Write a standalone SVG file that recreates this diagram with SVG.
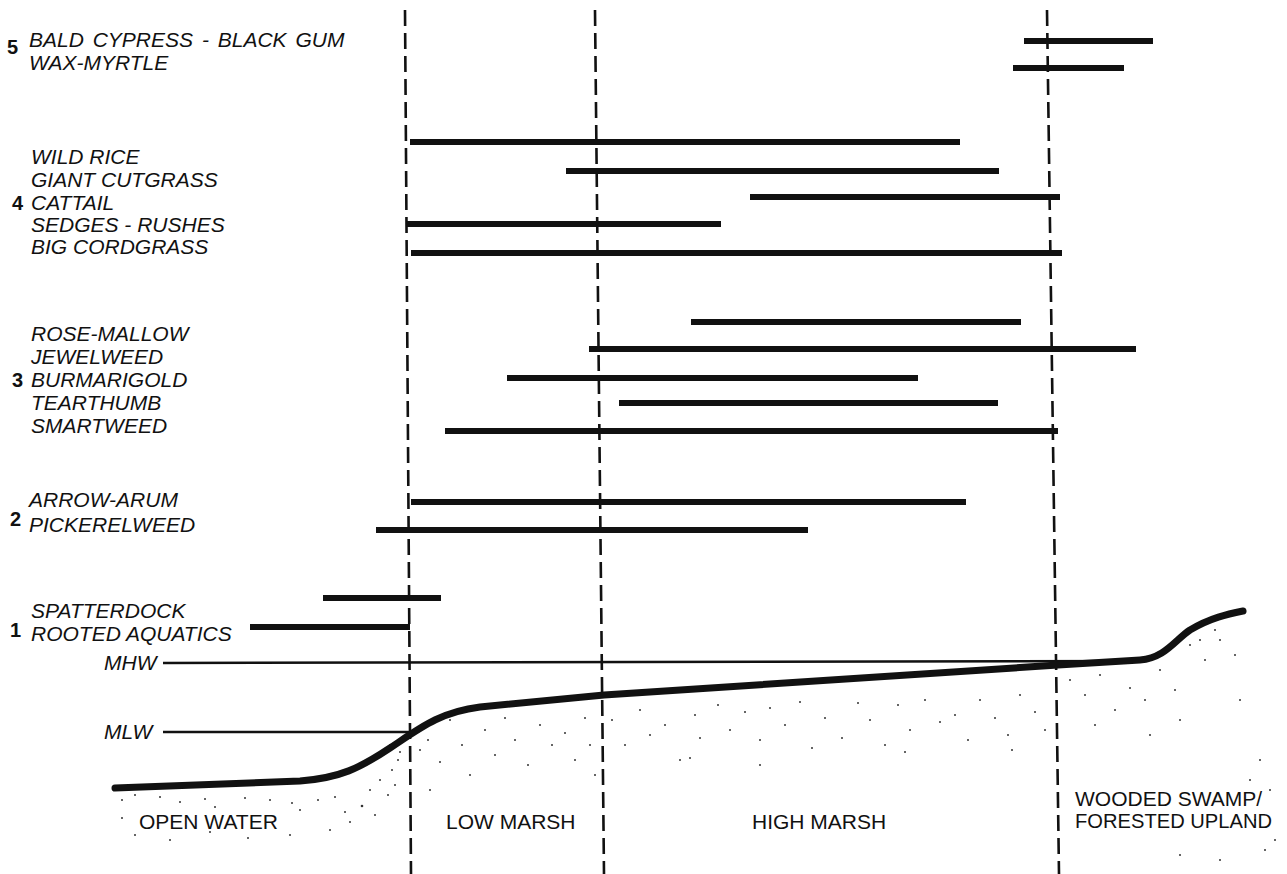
<svg xmlns="http://www.w3.org/2000/svg" width="1287" height="874" viewBox="0 0 1287 874">
<style>
.lbl{font-family:"Liberation Sans",Arial,sans-serif;font-style:italic;font-size:21px;fill:#111}
.wide{word-spacing:3px}
.num{font-family:"Liberation Sans",Arial,sans-serif;font-weight:bold;font-size:20px;fill:#111}
.zone{font-family:"Liberation Sans",Arial,sans-serif;font-size:21px;fill:#111}
.bar{stroke:#111;stroke-width:6;fill:none}
.dash{stroke:#111;stroke-width:2.6;stroke-dasharray:16 7;fill:none}
.tide{stroke:#111;stroke-width:2.5;fill:none}
.ground{stroke:#111;stroke-width:7;fill:none;stroke-linecap:round}
.dot{fill:#333}
</style>
<rect width="1287" height="874" fill="#fff"/>
<g id="stipple">
<circle class="dot" cx="122" cy="800" r="1"/><circle class="dot" cx="135" cy="795" r="1"/><circle class="dot" cx="160" cy="797" r="1"/><circle class="dot" cx="180" cy="802" r="1"/><circle class="dot" cx="205" cy="799" r="1"/><circle class="dot" cx="215" cy="807" r="1"/><circle class="dot" cx="245" cy="798" r="1"/><circle class="dot" cx="270" cy="800" r="1"/><circle class="dot" cx="292" cy="803" r="1"/><circle class="dot" cx="300" cy="810" r="1"/><circle class="dot" cx="318" cy="800" r="1"/><circle class="dot" cx="335" cy="797" r="1"/><circle class="dot" cx="345" cy="812" r="1"/><circle class="dot" cx="350" cy="822" r="1"/><circle class="dot" cx="362" cy="806" r="1.3"/><circle class="dot" cx="370" cy="790" r="1"/><circle class="dot" cx="380" cy="780" r="1"/><circle class="dot" cx="392" cy="770" r="1"/><circle class="dot" cx="395" cy="785" r="1"/><circle class="dot" cx="398" cy="760" r="1"/><circle class="dot" cx="388" cy="795" r="1"/><circle class="dot" cx="375" cy="815" r="1"/><circle class="dot" cx="330" cy="830" r="1"/><circle class="dot" cx="290" cy="835" r="1"/><circle class="dot" cx="248" cy="838" r="1"/><circle class="dot" cx="210" cy="832" r="1"/><circle class="dot" cx="170" cy="840" r="1"/><circle class="dot" cx="135" cy="835" r="1"/><circle class="dot" cx="122" cy="818" r="1"/><circle class="dot" cx="390" cy="745" r="1"/><circle class="dot" cx="400" cy="752" r="1"/>
<circle class="dot" cx="420" cy="750" r="1"/><circle class="dot" cx="428" cy="740" r="1"/><circle class="dot" cx="440" cy="762" r="1"/><circle class="dot" cx="450" cy="720" r="1"/><circle class="dot" cx="462" cy="745" r="1"/><circle class="dot" cx="470" cy="775" r="1"/><circle class="dot" cx="485" cy="730" r="1"/><circle class="dot" cx="495" cy="755" r="1"/><circle class="dot" cx="505" cy="718" r="1"/><circle class="dot" cx="515" cy="740" r="1"/><circle class="dot" cx="528" cy="765" r="1"/><circle class="dot" cx="540" cy="725" r="1"/><circle class="dot" cx="552" cy="745" r="1"/><circle class="dot" cx="565" cy="733" r="1"/><circle class="dot" cx="575" cy="760" r="1"/><circle class="dot" cx="585" cy="718" r="1"/><circle class="dot" cx="590" cy="745" r="1"/><circle class="dot" cx="595" cy="775" r="1"/><circle class="dot" cx="430" cy="790" r="1"/>
<circle class="dot" cx="612" cy="720" r="1"/><circle class="dot" cx="625" cy="745" r="1"/><circle class="dot" cx="640" cy="710" r="1"/><circle class="dot" cx="650" cy="735" r="1"/><circle class="dot" cx="665" cy="725" r="1"/><circle class="dot" cx="680" cy="760" r="1"/><circle class="dot" cx="695" cy="715" r="1"/><circle class="dot" cx="700" cy="738" r="1"/><circle class="dot" cx="718" cy="705" r="1"/><circle class="dot" cx="730" cy="730" r="1"/><circle class="dot" cx="745" cy="712" r="1"/><circle class="dot" cx="760" cy="740" r="1"/><circle class="dot" cx="770" cy="708" r="1"/><circle class="dot" cx="785" cy="725" r="1"/><circle class="dot" cx="800" cy="702" r="1"/><circle class="dot" cx="812" cy="748" r="1"/><circle class="dot" cx="825" cy="718" r="1"/><circle class="dot" cx="842" cy="738" r="1"/><circle class="dot" cx="858" cy="703" r="1"/><circle class="dot" cx="870" cy="720" r="1"/><circle class="dot" cx="885" cy="745" r="1"/><circle class="dot" cx="898" cy="705" r="1"/><circle class="dot" cx="910" cy="730" r="1"/><circle class="dot" cx="925" cy="700" r="1"/><circle class="dot" cx="940" cy="722" r="1"/><circle class="dot" cx="955" cy="715" r="1"/><circle class="dot" cx="968" cy="740" r="1"/><circle class="dot" cx="980" cy="700" r="1"/><circle class="dot" cx="995" cy="718" r="1"/><circle class="dot" cx="1008" cy="735" r="1"/><circle class="dot" cx="1020" cy="695" r="1"/><circle class="dot" cx="1035" cy="712" r="1"/><circle class="dot" cx="1045" cy="730" r="1"/><circle class="dot" cx="760" cy="765" r="1"/><circle class="dot" cx="690" cy="758" r="1"/><circle class="dot" cx="1012" cy="750" r="1"/><circle class="dot" cx="905" cy="752" r="1"/>
<circle class="dot" cx="1070" cy="680" r="1"/><circle class="dot" cx="1085" cy="695" r="1"/><circle class="dot" cx="1100" cy="675" r="1"/><circle class="dot" cx="1115" cy="710" r="1"/><circle class="dot" cx="1130" cy="688" r="1"/><circle class="dot" cx="1145" cy="700" r="1"/><circle class="dot" cx="1160" cy="670" r="1"/><circle class="dot" cx="1175" cy="690" r="1"/><circle class="dot" cx="1190" cy="645" r="1"/><circle class="dot" cx="1205" cy="660" r="1"/><circle class="dot" cx="1220" cy="640" r="1"/><circle class="dot" cx="1235" cy="655" r="1"/><circle class="dot" cx="1180" cy="720" r="1"/><circle class="dot" cx="1150" cy="735" r="1"/><circle class="dot" cx="1095" cy="725" r="1"/><circle class="dot" cx="1240" cy="700" r="1"/><circle class="dot" cx="1260" cy="760" r="1"/><circle class="dot" cx="1270" cy="790" r="1"/><circle class="dot" cx="1255" cy="820" r="1"/><circle class="dot" cx="1275" cy="840" r="1"/><circle class="dot" cx="1265" cy="850" r="1"/><circle class="dot" cx="1220" cy="860" r="1"/><circle class="dot" cx="1180" cy="855" r="1"/><circle class="dot" cx="1250" cy="780" r="1"/><circle class="dot" cx="1200" cy="640" r="1"/><circle class="dot" cx="1215" cy="630" r="1"/>
</g>
<g id="zone-boundaries">
<line class="dash" x1="405" y1="10" x2="411" y2="874"/>
<line class="dash" x1="595" y1="10" x2="604" y2="874"/>
<line class="dash" x1="1047" y1="10" x2="1059" y2="874"/>
</g>
<g id="tide-levels">
<line class="tide" x1="163" y1="663" x2="1142" y2="661"/>
<line class="tide" x1="163" y1="732" x2="414" y2="732"/>
<text class="lbl" x="104" y="670">MHW</text>
<text class="lbl" x="104" y="739">MLW</text>
</g>
<g id="ground">
<path class="ground" d="M115,788 L300,781 C340,778 360,768 390,748 C420,728 440,712 480,707 L604,695 L1058,665 L1140,660 C1165,658 1175,640 1190,630 C1210,618 1228,614 1243,611"/>
</g>
<g id="group5">
<text class="num" x="7" y="54">5</text>
<text class="lbl wide" x="29" y="47">BALD CYPRESS - BLACK GUM</text>
<text class="lbl" x="29" y="70">WAX-MYRTLE</text>
<line class="bar" x1="1024" y1="41" x2="1153" y2="41"/>
<line class="bar" x1="1013" y1="68" x2="1124" y2="68"/>
</g>
<g id="group4">
<text class="num" x="12" y="210">4</text>
<text class="lbl" x="31" y="164">WILD RICE</text>
<text class="lbl" x="31" y="187">GIANT CUTGRASS</text>
<text class="lbl" x="31" y="210">CATTAIL</text>
<text class="lbl" x="31" y="232">SEDGES - RUSHES</text>
<text class="lbl" x="31" y="254">BIG CORDGRASS</text>
<line class="bar" x1="410" y1="142" x2="960" y2="142"/>
<line class="bar" x1="566" y1="171" x2="999" y2="171"/>
<line class="bar" x1="750" y1="197" x2="1060" y2="197"/>
<line class="bar" x1="407" y1="224" x2="721" y2="224"/>
<line class="bar" x1="411" y1="253" x2="1062" y2="253"/>
</g>
<g id="group3">
<text class="num" x="12" y="387">3</text>
<text class="lbl" x="31" y="341">ROSE-MALLOW</text>
<text class="lbl" x="31" y="364">JEWELWEED</text>
<text class="lbl" x="31" y="387">BURMARIGOLD</text>
<text class="lbl" x="31" y="410">TEARTHUMB</text>
<text class="lbl" x="31" y="433">SMARTWEED</text>
<line class="bar" x1="691" y1="322" x2="1021" y2="322"/>
<line class="bar" x1="589" y1="349" x2="1136" y2="349"/>
<line class="bar" x1="507" y1="378" x2="918" y2="378"/>
<line class="bar" x1="619" y1="403" x2="998" y2="403"/>
<line class="bar" x1="445" y1="431" x2="1058" y2="431"/>
</g>
<g id="group2">
<text class="num" x="10" y="526">2</text>
<text class="lbl" x="29" y="507">ARROW-ARUM</text>
<text class="lbl" x="29" y="532">PICKERELWEED</text>
<line class="bar" x1="411" y1="502" x2="966" y2="502"/>
<line class="bar" x1="376" y1="530" x2="808" y2="530"/>
</g>
<g id="group1">
<text class="num" x="10" y="637">1</text>
<text class="lbl" x="31" y="618">SPATTERDOCK</text>
<text class="lbl" x="31" y="641">ROOTED AQUATICS</text>
<line class="bar" x1="323" y1="598" x2="441" y2="598"/>
<line class="bar" x1="250" y1="627" x2="410" y2="627"/>
</g>
<g id="zones">
<text class="zone" x="139" y="829">OPEN WATER</text>
<text class="zone" x="446" y="829">LOW MARSH</text>
<text class="zone" x="752" y="829">HIGH MARSH</text>
<text class="zone" x="1075" y="806">WOODED SWAMP/</text>
<text class="zone" x="1075" y="828" textLength="197" lengthAdjust="spacingAndGlyphs">FORESTED UPLAND</text>
</g>
</svg>
